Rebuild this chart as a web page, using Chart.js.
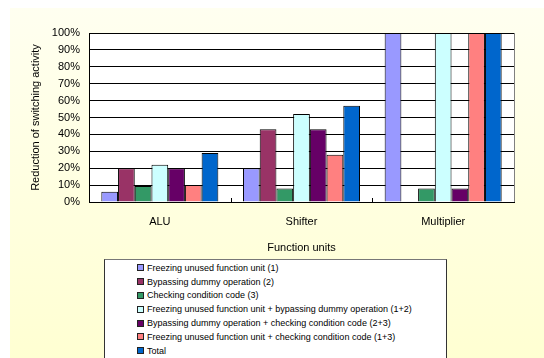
<!DOCTYPE html>
<html><head><meta charset="utf-8">
<script src="https://cdn.jsdelivr.net/npm/chart.js@4"></script>
<style>
html,body{margin:0;padding:0;background:#fff;}
#wrap{position:relative;width:544px;height:358px;overflow:hidden;}
#c{position:absolute;left:0;top:0;}
#legend{position:absolute;left:104px;top:259px;width:343px;height:120px;background:#fff;border:1px solid #333;border-top-color:#777;box-sizing:border-box;padding:1px 0 0 32px;font:9px "Liberation Sans",Arial,sans-serif;color:#000;}
.item{height:13.8px;white-space:nowrap;display:flex;align-items:center;}
.sw{width:5px;height:5px;border:1px solid #222;margin-right:3px;flex:none;}
</style>
</head><body>
<div id="wrap">
<canvas id="c" width="544" height="358"></canvas>
<div id="legend"></div>
</div>
<script>
const categories = ['ALU', 'Shifter', 'Multiplier'];
const seriesNames = [
  'Freezing unused function unit (1)',
  'Bypassing dummy operation (2)',
  'Checking condition code (3)',
  'Freezing unused function unit + bypassing dummy operation (1+2)',
  'Bypassing dummy operation + checking condition code (2+3)',
  'Freezing unused function unit + checking condition code (1+3)',
  'Total'
];
const seriesColors = ['#9999FF', '#993366', '#339966', '#CCFFFF', '#660066', '#FF8080', '#0066CC'];
const freezing     = [6, 20, 100];
const bypassing    = [20, 43, 0];
const checking     = [9.5, 8, 8];
const freezeBypass = [22, 52, 100];
const bypassCheck  = [20, 43, 8];
const freezeCheck  = [10, 28, 100];
const total        = [29, 57, 100];
const seriesValues = [freezing, bypassing, checking, freezeBypass, bypassCheck, freezeCheck, total];
const yTickValues = [0, 10, 20, 30, 40, 50, 60, 70, 80, 90, 100];
const yTitle = 'Reduction of switching activity';
const xTitle = 'Function units';

const FONT = '"Liberation Sans", Arial, sans-serif';

const bgPlugin = {
  id: 'bg',
  beforeDraw(chart) {
    const ctx = chart.ctx, a = chart.chartArea;
    ctx.save();
    ctx.fillStyle = '#fff';
    ctx.fillRect(0, 0, chart.width, chart.height);
    const g = ctx.createLinearGradient(0, 8, 0, chart.height);
    g.addColorStop(0, '#FFFFF0');
    g.addColorStop(1, '#FFFFD2');
    ctx.fillStyle = g;
    ctx.fillRect(10, 8, chart.width - 10, chart.height - 8);
    ctx.fillStyle = '#fff';
    ctx.fillRect(a.left, a.top, a.right - a.left, a.bottom - a.top);
    ctx.restore();
  },
  afterDraw(chart) {
    const ctx = chart.ctx, a = chart.chartArea, xs = chart.scales.x;
    ctx.save();
    ctx.strokeStyle = '#808080';
    ctx.lineWidth = 1;
    ctx.beginPath();
    ctx.moveTo(Math.round(a.right) + 0.5, a.top);
    ctx.lineTo(Math.round(a.right) + 0.5, a.bottom);
    ctx.stroke();
    ctx.strokeStyle = '#000';
    ctx.beginPath();
    for (let i = 0; i < categories.length - 1; i++) {
      const x = Math.round((xs.getPixelForTick(i) + xs.getPixelForTick(i + 1)) / 2) + 0.5;
      ctx.moveTo(x, a.bottom);
      ctx.lineTo(x, a.bottom - 4);
    }
    ctx.stroke();
    ctx.restore();
  }
};

new Chart(document.getElementById('c'), {
  type: 'bar',
  data: {
    labels: categories,
    datasets: seriesNames.map((n, i) => ({
      label: n,
      data: seriesValues[i],
      backgroundColor: seriesColors[i],
      borderColor: '#000',
      borderWidth: 1,
      borderSkipped: 'start',
      categoryPercentage: 0.826,
      barPercentage: 1
    }))
  },
  options: {
    responsive: false,
    animation: false,
    devicePixelRatio: 1,
    layout: { padding: { left: 0, top: 33, right: 30, bottom: 101 } },
    plugins: { legend: { display: false }, tooltip: { enabled: false } },
    scales: {
      x: {
        grid: { display: false, drawTicks: false },
        border: { display: true, color: '#000', width: 1 },
        ticks: { color: '#000', font: { family: FONT, size: 11 }, padding: 13, maxRotation: 0 },
        title: { display: true, text: xTitle, color: '#000', font: { family: FONT, size: 11 }, padding: { top: 0, bottom: 2.4 } },
        afterFit(s) { s.height = 55; }
      },
      y: {
        min: 0, max: 100,
        afterBuildTicks(s) { s.ticks = yTickValues.map(v => ({ value: v })); },
        grid: { color: '#000', lineWidth: 1, drawTicks: false },
        border: { display: true, color: '#000', width: 1 },
        ticks: { color: '#000', font: { family: FONT, size: 11 }, padding: 9, callback: v => v + '%' },
        title: { display: true, text: yTitle, color: '#000', font: { family: FONT, size: 11 }, padding: { top: 29.4, bottom: 0 } },
        afterFit(s) { s.width = 89; }
      }
    }
  },
  plugins: [bgPlugin]
});

const leg = document.getElementById('legend');
seriesNames.forEach((n, i) => {
  const d = document.createElement('div');
  d.className = 'item';
  const sw = document.createElement('span');
  sw.className = 'sw';
  sw.style.background = seriesColors[i];
  const t = document.createElement('span');
  t.textContent = n;
  d.appendChild(sw); d.appendChild(t);
  leg.appendChild(d);
});
</script>
</body></html>
